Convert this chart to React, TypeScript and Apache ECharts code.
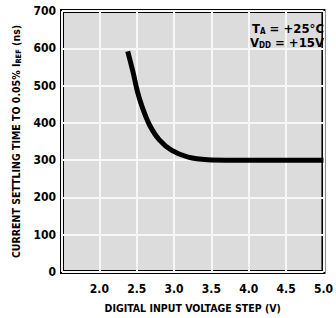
import React, { useEffect, useRef } from "react";
import * as echarts from "echarts";

const voltageStep: number[] = [2.38, 2.45, 2.51, 2.58, 2.67, 2.8, 2.97, 3.19, 3.45, 3.7, 5.0];
const settlingNs: number[] = [592, 537, 484, 439, 395, 355, 326, 308, 301, 300, 300];
const xTicks: number[] = [1.5, 2.0, 2.5, 3.0, 3.5, 4.0, 4.5, 5.0];
const yTicks: number[] = [0, 100, 200, 300, 400, 500, 600, 700];
const conditionLines: string[] = ["T{sub|A} = +25°C", "V{sub|DD} = +15V"];

const FONT = '"DejaVu Sans Condensed", "Liberation Sans Narrow", "Liberation Sans", sans-serif';

export default function App() {
  const ref = useRef<HTMLDivElement>(null);
  useEffect(() => {
    if (!ref.current) return;
    const chart = echarts.init(ref.current, null, { renderer: "svg" });
    const subRich = (size: number, pad: number) => ({
      sub: { fontSize: size, fontWeight: "bold", fontFamily: FONT, color: "#000", verticalAlign: "bottom", padding: [pad, 0, 0, 0] },
    });
    chart.setOption({
      animation: false,
      backgroundColor: "#ffffff",
      grid: {
        left: 62,
        right: 7,
        top: 11,
        bottom: 42,
        show: true,
        borderColor: "#000",
        borderWidth: 4,
        backgroundColor: "#dcdcdc",
      },
      xAxis: {
        type: "value",
        min: xTicks[0],
        max: xTicks[xTicks.length - 1],
        interval: 0.5,
        axisLine: { show: false },
        axisTick: { show: false },
        splitLine: { show: true, lineStyle: { color: "#f7f7f7", width: 2 } },
        axisLabel: {
          margin: 11,
          fontFamily: FONT,
          fontWeight: "bold",
          fontSize: 12,
          color: "#000",
          formatter: (v: number) => (Math.abs(v - xTicks[0]) < 1e-6 ? "" : v.toFixed(1)),
        },
        name: "DIGITAL INPUT VOLTAGE STEP (V)",
        nameLocation: "middle",
        nameGap: 30,
        nameTextStyle: { fontFamily: FONT, fontWeight: "bold", fontSize: 10.5, color: "#000" },
      },
      yAxis: {
        type: "value",
        min: yTicks[0],
        max: yTicks[yTicks.length - 1],
        interval: 100,
        axisLine: { show: false },
        axisTick: { show: false },
        splitLine: { show: true, lineStyle: { color: "#f7f7f7", width: 2 } },
        axisLabel: {
          margin: 6,
          fontFamily: FONT,
          fontWeight: "bold",
          fontSize: 12,
          color: "#000",
        },
        name: "CURRENT SETTLING TIME TO 0.05% I{sub|REF} (ns)",
        nameLocation: "middle",
        nameRotate: 90,
        nameGap: 33,
        nameTextStyle: { fontFamily: FONT, fontWeight: "bold", fontSize: 10.5, color: "#000", rich: subRich(7.5, 5) },
      },
      graphic: conditionLines.map((t, i) => ({
        type: "text",
        right: 12,
        top: 22 + i * 14,
        z: 10,
        style: {
          text: t,
          fontFamily: FONT,
          fontWeight: "bold",
          fontSize: 13,
          fill: "#000",
          rich: subRich(8, 6),
        },
      })),
      series: [
        {
          type: "line",
          data: voltageStep.map((x, i) => [x, settlingNs[i]]),
          smooth: 0.35,
          showSymbol: false,
          lineStyle: { color: "#000", width: 5 },
          z: 5,
        },
      ],
    });
    return () => chart.dispose();
  }, []);
  return <div ref={ref} style={{ position: "fixed", left: 0, top: 0, width: 336, height: 318 }} />;
}
